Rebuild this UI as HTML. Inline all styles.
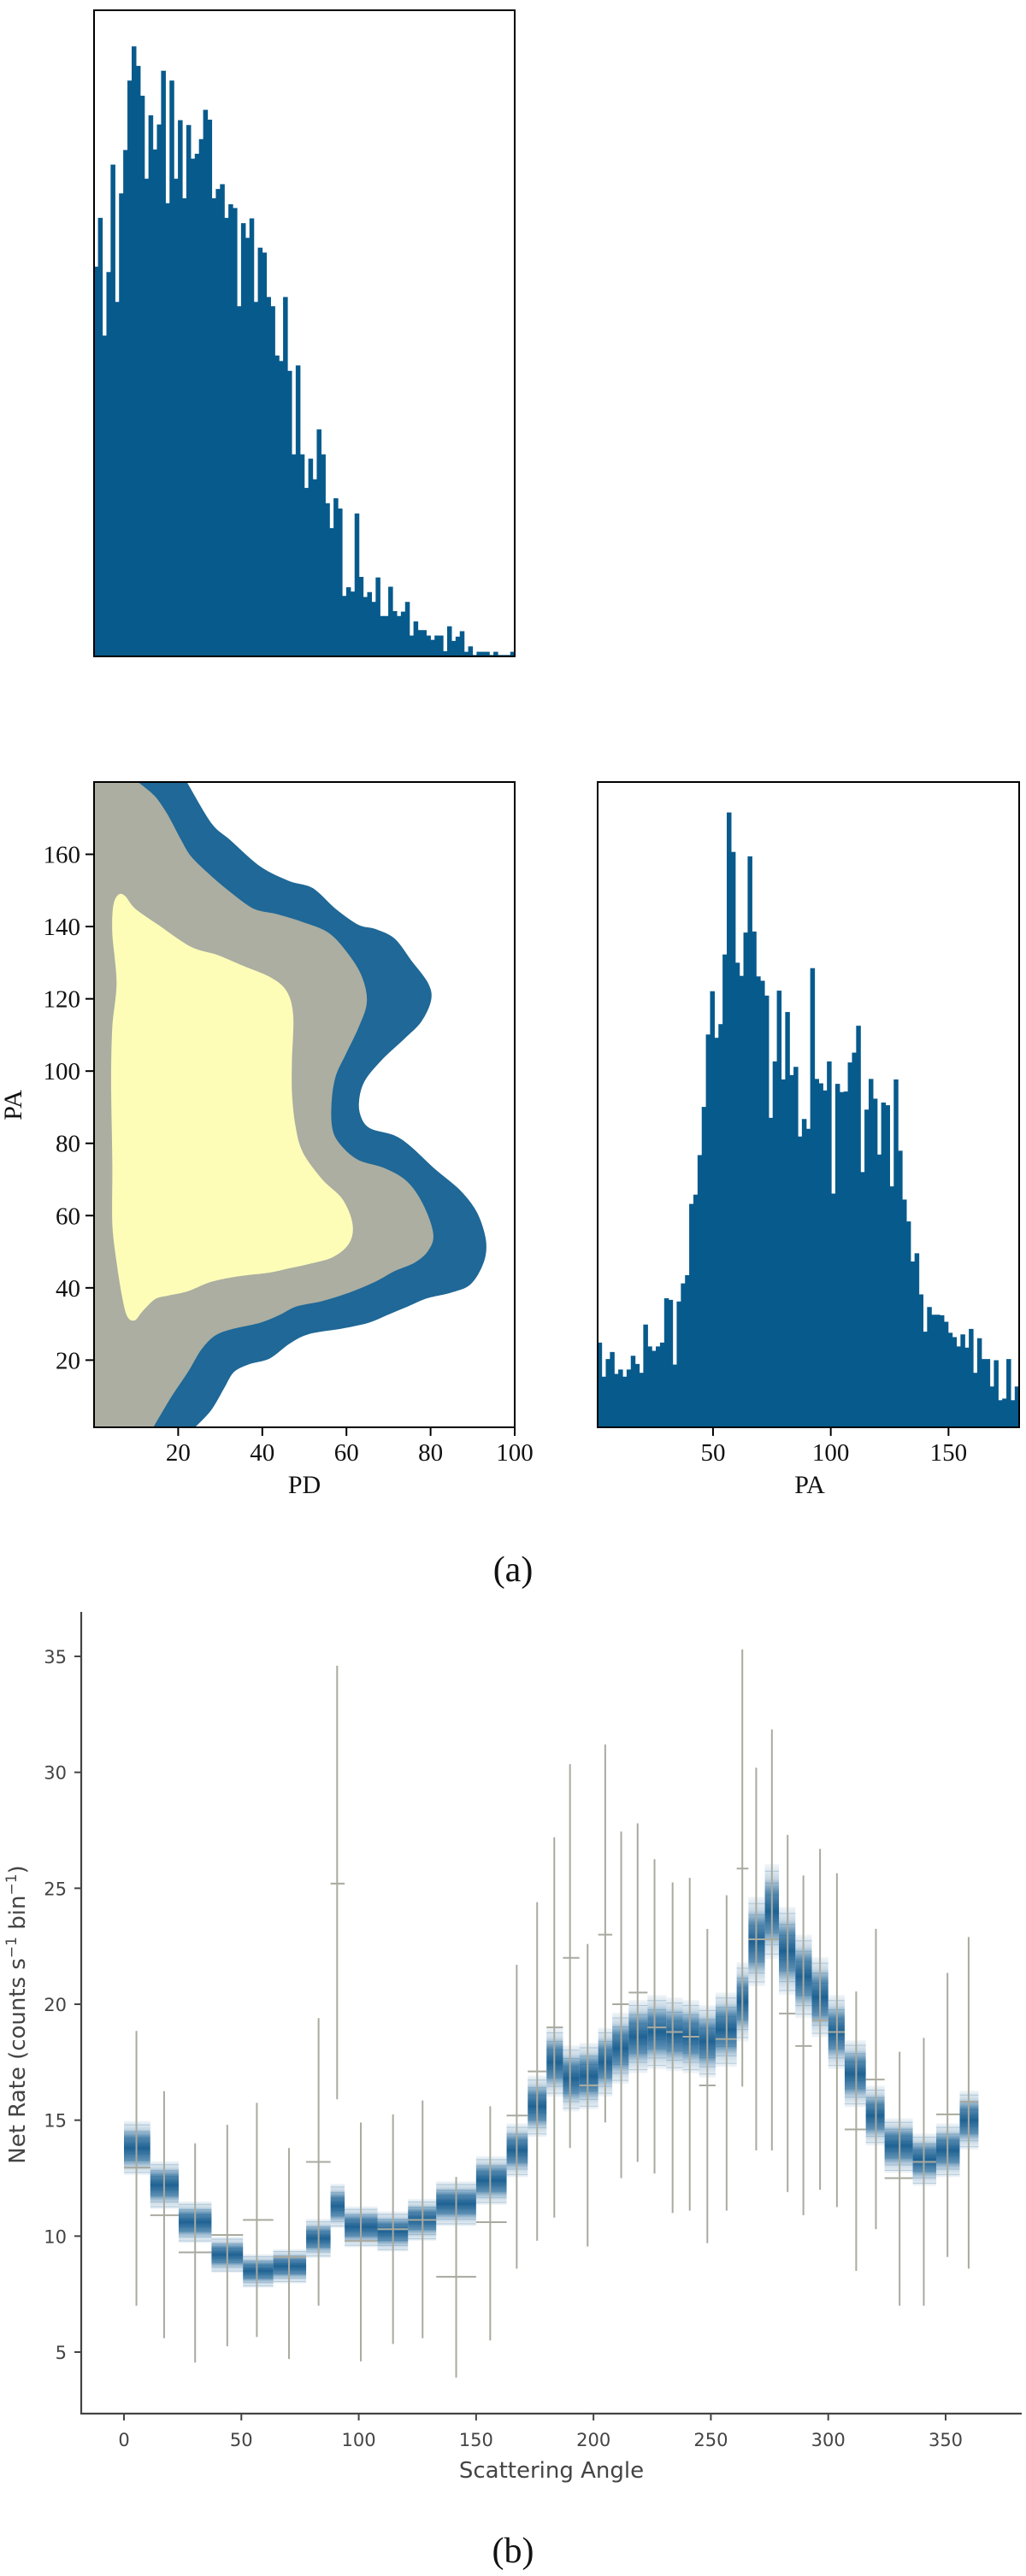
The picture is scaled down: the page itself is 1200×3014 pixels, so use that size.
<!DOCTYPE html>
<html><head><meta charset="utf-8"><style>
html,body{margin:0;padding:0;background:#fff}
svg{display:block}
.serif{font-family:"Liberation Serif",serif;fill:#111}
.sans{font-family:"DejaVu Sans","Liberation Sans",sans-serif;fill:#444}
</style></head><body>
<svg id="fig" width="1200" height="3014" viewBox="0 0 1200 3014" xmlns="http://www.w3.org/2000/svg">
<defs>
<linearGradient id="bandGrad" x1="0" y1="0" x2="0" y2="1">
<stop offset="0" stop-color="#1f6496" stop-opacity="0.06"/>
<stop offset="0.15" stop-color="#1f6496" stop-opacity="0.25"/>
<stop offset="0.3" stop-color="#1f6496" stop-opacity="0.75"/>
<stop offset="0.5" stop-color="#175d90" stop-opacity="0.97"/>
<stop offset="0.7" stop-color="#1f6496" stop-opacity="0.75"/>
<stop offset="0.85" stop-color="#1f6496" stop-opacity="0.25"/>
<stop offset="1" stop-color="#1f6496" stop-opacity="0.06"/>
</linearGradient>
</defs>
<g id="pdHist"></g>
<g id="contour"></g>
<g id="paHist"></g>
<text class="serif" x="600" y="1850" font-size="42" text-anchor="middle">(a)</text>
<g id="rate"></g>
<text class="serif" x="600" y="2998" font-size="42" text-anchor="middle">(b)</text>
</svg>
<script>
// ---------- data ----------
const pdCounts=[718,808,591,708,906,653,853,933,1061,1124,1088,1033,880,997,934,980,1079,835,1061,880,988,844,979,917,926,953,1007,989,844,861,870,808,833,826,645,798,771,807,653,753,744,662,645,554,544,662,526,372,536,372,310,364,326,418,372,282,236,291,272,111,127,119,263,146,109,118,100,145,74,74,128,83,74,82,100,38,64,48,48,38,30,38,38,9,55,28,36,46,8,18,2,8,8,8,2,8,2,2,2,8];
const paCounts=[154,92,124,137,97,105,92,105,130,115,99,187,147,139,147,154,235,232,114,229,262,277,407,424,496,584,716,795,710,735,862,1121,1049,847,823,902,1041,904,822,814,787,564,667,796,634,757,642,657,530,562,544,837,635,627,614,667,426,626,611,612,665,683,732,465,579,635,599,497,592,587,439,634,504,415,375,302,317,242,174,219,205,205,204,192,172,164,147,169,145,179,99,162,124,124,74,122,49,52,124,49,74];
const outerPD=[21.9,27.7,32.3,39.4,46.4,51.9,57.3,62.8,66.7,71.4,75.3,79.2,80.0,77.7,73.8,68.3,64.1,62.8,63.6,65.9,71.4,75.3,80.8,87.0,90.9,93.0,92.5,89.4,84.7,79.2,74.5,69.8,65.2,58.9,51.1,46.4,41.7,37.0,33.1,30.8,27.7,23.8];
const outerPA=[180,168.6,163.8,156.5,152.4,150.5,144.8,140.3,139.2,136.5,130.5,124.4,119.8,113.8,109.2,103.2,97.1,91.1,86.5,83.8,82.0,78.9,72.9,66.8,60.8,53.2,47.1,41.1,38.8,37.3,35.0,32.7,30.5,28.9,27.4,24.7,20.6,19.1,16.8,12.3,6.2,1.4];
const midPD=[10.2,14.4,17.5,20.6,23.0,27.7,32.3,37.8,43.3,49.5,55.8,60.5,63.6,64.7,62.8,59.7,57.3,56.3,56.6,58.9,62.8,69.1,74.5,78.4,80.5,79.2,76.1,71.4,66.7,60.5,54.2,48.0,44.1,39.4,32.3,28.4,25.3,22.2,18.3,13.9];
const midPA=[180,175.9,170.6,163.8,159.2,153.9,149.4,144.8,143.3,141.1,138.0,132.0,125.9,119.1,112.3,104.7,98.6,91.1,83.5,78.9,75.2,72.9,69.1,62.3,54.7,50.2,47.1,44.8,41.8,38.8,36.5,35.0,32.7,30.5,28.6,26.7,22.9,16.8,10.0,1.4];
const innerPD=[5.8,7.3,9.7,15.2,23.0,29.2,35.5,41.7,45.6,47.2,46.9,46.9,47.7,49.5,54.2,58.9,61.3,60.5,56.6,51.1,46.4,41.7,33.9,27.7,22.2,17.5,14.4,11.3,9.7,8.1,7.0,5.5,4.5,4.5,4.2,4.5,5.5,4.5,4.7];
const innerPA=[148.6,148.3,144.8,140.3,134.2,132.0,128.9,125.9,122.1,115.3,103.2,94.1,85.0,77.4,69.8,64.5,57.7,52.4,48.6,46.8,45.6,44.4,43.3,41.8,39.2,38.0,37.0,33.5,31.2,32.0,36.5,47.1,57.7,74.4,97.1,112.3,124.4,138.0,145.6];
const binLo=[0,11.2,23.3,37.3,50.7,63.6,77.6,88,94,108,121,133,150,163,172,180,187,194,202,208,215,223,231,238,245,252,261,266,273,279,286,293,300,307,316,324,336,346,356];
const binHi=[11.2,23.3,37.3,50.7,63.6,77.6,88,94,108,121,133,150,163,172,180,187,194,202,208,215,223,231,238,245,252,261,266,273,279,286,293,300,307,316,324,336,346,356,364];
const modelRate=[13.8,12.2,10.6,9.2,8.5,8.7,9.9,11.3,10.4,10.2,10.7,11.4,12.4,13.7,15.6,17.5,16.8,16.9,17.5,18.1,18.6,18.8,18.7,18.6,18.4,18.9,20.1,22.7,24.0,22.3,21.2,20.3,18.8,17.0,15.2,13.9,13.3,13.7,15.0];
const obsX=[5.3,17.1,30.3,44,56.6,70.3,82.9,90.8,100.9,114.6,127.2,141.5,156,167.3,176,183.3,190,197.5,205,211.8,218.8,226,233.7,241,248.5,256.7,263.4,269.3,276,282.7,289.4,296.5,303.7,311.9,320.3,330.4,340.7,350.8,359.8];
const obsRate=[12.95,10.9,9.3,10.05,10.7,9.1,13.2,25.2,9.8,10.3,10.7,8.25,10.6,15.2,17.1,19.0,22.0,16.5,23.0,20.0,20.5,19.0,18.8,18.6,16.5,18.5,25.85,22.8,22.8,19.6,18.2,19.3,18.8,14.6,16.75,12.5,13.2,15.25,15.8];
const obsHi=[18.85,16.25,14.0,14.8,15.75,13.8,19.4,34.6,14.9,15.25,15.85,12.55,15.6,21.7,24.4,27.2,30.35,22.6,31.2,27.45,27.8,26.25,25.25,25.45,23.25,24.7,35.3,30.2,31.85,27.3,25.55,26.7,25.65,20.55,23.25,17.95,18.55,21.35,22.9];
const obsLo=[7.0,5.6,4.55,5.25,5.65,4.7,7.0,15.9,4.6,5.35,5.6,3.9,5.5,8.6,9.8,10.8,13.8,9.55,14.9,12.5,13.2,12.7,11.0,11.1,9.7,11.1,16.45,13.7,13.7,11.9,10.9,12.0,11.25,8.5,10.3,7.0,7.0,9.1,8.6];
const rateYTicks=[5,10,15,20,25,30,35];
const rateXTicks=[0,50,100,150,200,250,300,350];
const pdTicks=[20,40,60,80,100];
const paYTicks=[20,40,60,80,100,120,140,160];
const paXTicks=[50,100,150];

// ---------- helpers ----------
const NS="http://www.w3.org/2000/svg";
function mk(parent,tag,attrs,text){const e=document.createElementNS(NS,tag);for(const k in attrs)e.setAttribute(k,attrs[k]);if(text!==undefined)e.textContent=text;parent.appendChild(e);return e;}
function lin(d0,d1,r0,r1){return v=>r0+(v-d0)*(r1-r0)/(d1-d0);}
function smoothPath(pts,closed){
  const n=pts.length;let d="M"+pts[0][0].toFixed(1)+","+pts[0][1].toFixed(1);
  const g=i=>closed?pts[(i+n)%n]:pts[Math.max(0,Math.min(n-1,i))];
  const last=closed?n:n-1;
  for(let i=0;i<last;i++){const p0=g(i-1),p1=g(i),p2=g(i+1),p3=g(i+2);
    const c1=[p1[0]+(p2[0]-p0[0])/6,p1[1]+(p2[1]-p0[1])/6],c2=[p2[0]-(p3[0]-p1[0])/6,p2[1]-(p3[1]-p1[1])/6];
    d+="C"+c1[0].toFixed(1)+","+c1[1].toFixed(1)+" "+c2[0].toFixed(1)+","+c2[1].toFixed(1)+" "+p2[0].toFixed(1)+","+p2[1].toFixed(1);}
  return d+(closed?"Z":"");
}
const HC="#075a8c";

// ---------- PD histogram ----------
(function(){
  const g=document.getElementById('pdHist');const L=110,R=602,T=12,B=768;
  const x=lin(0,pdCounts.length,L,R);const y=lin(0,1180,B,T+7);
  let d="M"+L+","+B;
  pdCounts.forEach((c,i)=>{d+="L"+x(i).toFixed(2)+","+y(c).toFixed(2)+"L"+x(i+1).toFixed(2)+","+y(c).toFixed(2);});
  d+="L"+R+","+B+"Z";
  const p=mk(g,'path',{d:d,fill:HC,stroke:HC,'stroke-width':0.6});
  
  
  const f=mk(g,'rect',{x:L,y:T,width:R-L,height:B-T,fill:'none',stroke:'#000','stroke-width':2});
  
  
})();

// ---------- contour ----------
(function(){
  const g=document.getElementById('contour');const L=110,R=602,T=915,B=1670;
  const x=lin(0,100,L,R);const y=lin(1.4,180,B,T);
  const cp=mk(g,'clipPath',{id:'cclip'});
  mk(cp,'rect',{x:L,y:T,width:R-L,height:B-T});
  const gc=mk(g,'g',{'clip-path':'url(#cclip)'});
  function region(pdA,paA,col,name,extraLeft){
    let pts=pdA.map((v,i)=>[x(v),y(paA[i])]);
    let d;
    if(extraLeft){d=smoothPath(pts,false)+"L"+(L-5)+","+(B+5)+"L"+(L-5)+","+(T-5)+"L"+pts[0][0].toFixed(1)+","+(T-5)+"Z";}
    else d=smoothPath(pts,true);
    const p=mk(gc,'path',{d:d,fill:col,stroke:col,'stroke-width':1.5});
    
    
  }
  region(outerPD,outerPA,'#1f6897','contour-outer-level',true);
  region(midPD,midPA,'#abaea1','contour-middle-level',true);
  region(innerPD,innerPA,'#fdfdb8','contour-inner-level',false);
  const f=mk(g,'rect',{x:L,y:T,width:R-L,height:B-T,fill:'none',stroke:'#000','stroke-width':2});
  
  
  pdTicks.forEach(t=>{
    mk(g,'line',{x1:x(t),x2:x(t),y1:B,y2:B+10,stroke:'#000','stroke-width':2});
    const tx=mk(g,'text',{x:x(t),y:1709,'font-size':29,'text-anchor':'middle',class:'serif'},String(t));
    
    
  });
  paYTicks.forEach(t=>{
    mk(g,'line',{x1:L-10,x2:L,y1:y(t),y2:y(t),stroke:'#000','stroke-width':2});
    const tx=mk(g,'text',{x:L-16,y:y(t)+10,'font-size':29,'text-anchor':'end',class:'serif'},String(t));
    
    
  });
  const xl=mk(g,'text',{x:356,y:1747,'font-size':30,'text-anchor':'middle',class:'serif'},'PD');
  
  
  const yl=mk(g,'text',{x:0,y:0,'font-size':30,'text-anchor':'middle',class:'serif',transform:'translate(25,1293) rotate(-90)'},'PA');
  
  
})();

// ---------- PA histogram ----------
(function(){
  const g=document.getElementById('paHist');const L=699,R=1192,T=915,B=1670;
  const xb=lin(0,paCounts.length,L,R);const y=lin(0,1177,B,T);const x=lin(1,180,L,R);
  let d="M"+L+","+B;
  paCounts.forEach((c,i)=>{d+="L"+xb(i).toFixed(2)+","+y(c).toFixed(2)+"L"+xb(i+1).toFixed(2)+","+y(c).toFixed(2);});
  d+="L"+R+","+B+"Z";
  const p=mk(g,'path',{d:d,fill:HC,stroke:HC,'stroke-width':0.6});
  
  
  const f=mk(g,'rect',{x:L,y:T,width:R-L,height:B-T,fill:'none',stroke:'#000','stroke-width':2});
  
  
  paXTicks.forEach(t=>{
    mk(g,'line',{x1:x(t),x2:x(t),y1:B,y2:B+10,stroke:'#000','stroke-width':2});
    const tx=mk(g,'text',{x:x(t),y:1709,'font-size':29,'text-anchor':'middle',class:'serif'},String(t));
    
    
  });
  const xl=mk(g,'text',{x:947,y:1747,'font-size':30,'text-anchor':'middle',class:'serif'},'PA');
  
  
})();

// ---------- Net rate ----------
(function(){
  const g=document.getElementById('rate');
  const x=lin(0,350,145,1106);const y=lin(5,35,2752,1938);
  const SP=[-0.9,-0.7,-0.45,-0.2,0.15,0.35,0.6,0.85];
  modelRate.forEach((v,i)=>{
    const grp=mk(g,'g',{});
    
    
    const half=0.085*v;
    const x0=x(binLo[i]),w=x(binHi[i])-x(binLo[i]);
    mk(grp,'rect',{x:x0,y:y(v+half),width:w,height:y(v-half)-y(v+half),fill:'url(#bandGrad)'});
    SP.forEach(s=>{const yy=y(v+s*half);
      mk(grp,'line',{x1:x0,x2:x0+w,y1:yy,y2:yy,stroke:'#1f6496','stroke-width':1,opacity:0.25});});
  });
  obsX.forEach((v,i)=>{
    const grp=mk(g,'g',{stroke:'#a9aa9f','stroke-width':2});
    
    
    mk(grp,'line',{x1:x(v),x2:x(v),y1:y(obsLo[i]),y2:y(obsHi[i])});
    mk(grp,'line',{x1:x(binLo[i]),x2:x(binHi[i]),y1:y(obsRate[i]),y2:y(obsRate[i])});
  });
  const ax=mk(g,'g',{stroke:'#444','stroke-width':2.2});
  
  
  mk(ax,'line',{x1:95,x2:95,y1:1886,y2:2825});
  mk(ax,'line',{x1:94,x2:1195,y1:2824,y2:2824});
  rateYTicks.forEach(t=>{
    mk(g,'line',{x1:87,x2:95,y1:y(t),y2:y(t),stroke:'#444','stroke-width':2});
    const tx=mk(g,'text',{x:78,y:y(t)+8,'font-size':21,'text-anchor':'end',class:'sans'},String(t));
    
    
  });
  rateXTicks.forEach(t=>{
    mk(g,'line',{x1:x(t),x2:x(t),y1:2824,y2:2832,stroke:'#444','stroke-width':2});
    const tx=mk(g,'text',{x:x(t),y:2862,'font-size':21,'text-anchor':'middle',class:'sans'},String(t));
    
    
  });
  const xl=mk(g,'text',{x:645,y:2899,'font-size':26,'text-anchor':'middle',class:'sans'},'Scattering Angle');
  
  
  const yl=mk(g,'text',{x:0,y:0,'font-size':26,'text-anchor':'middle',class:'sans',transform:'translate(29,2357) rotate(-90)'});
  
  
  mk(yl,'tspan',{},'Net Rate (counts s');
  mk(yl,'tspan',{'font-size':17,dy:-10},'−1');
  mk(yl,'tspan',{dy:10},' bin');
  mk(yl,'tspan',{'font-size':17,dy:-10},'−1');
  mk(yl,'tspan',{dy:10},')');
})();
</script>
</body></html>
